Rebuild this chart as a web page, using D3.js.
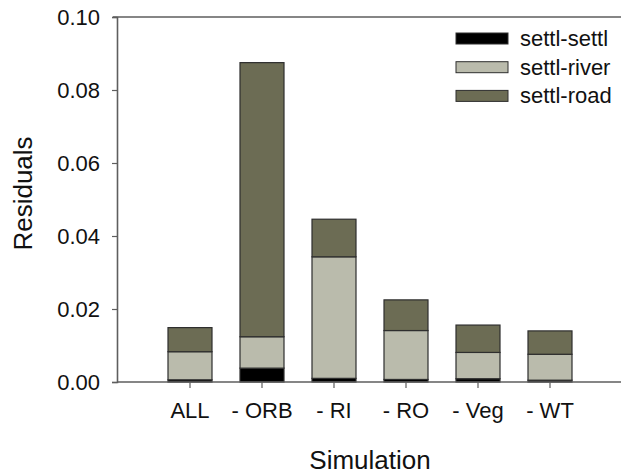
<!DOCTYPE html>
<html>
<head>
<meta charset="utf-8">
<script src="https://cdn.jsdelivr.net/npm/d3@7"></script>
<style>
  html, body { margin: 0; padding: 0; background: #fff; }
  svg { display: block; font-family: "Liberation Sans", Arial, sans-serif; }
</style>
</head>
<body>
<svg id="chart" width="621" height="475"></svg>
<script>
// Simulations along the x axis
const simulations = ["ALL", "- ORB", "- RI", "- RO", "- Veg", "- WT"];
// Residual components per simulation (stacked bottom to top)
const settlSettl = [0.0006, 0.0038, 0.0010, 0.0007, 0.0009, 0.0005];
const settlRiver = [0.0077, 0.0086, 0.0333, 0.0134, 0.0072, 0.0071];
const settlRoad  = [0.0066, 0.0751, 0.0103, 0.0084, 0.0075, 0.0064];
const seriesNames = ["settl-settl", "settl-river", "settl-road"];
const seriesColors = ["#000000", "#babbac", "#6c6c54"];
const yTicks = [0, 0.02, 0.04, 0.06, 0.08, 0.10];

const svg = d3.select("#chart");
const plotLeft = 117, plotTop = 17, plotBottom = 382, plotRight = 621;

// Six slots of bars with one step of empty space before the first
const step = 72;
const x = d3.scaleBand()
  .domain(simulations)
  .range([plotLeft + step / 2 + 1, plotLeft + step / 2 + 1 + step * simulations.length])
  .paddingInner(28 / 72)
  .paddingOuter(14 / 72);

const y = d3.scaleLinear().domain([0, 0.10]).range([plotBottom, plotTop]);

const rows = simulations.map((s, i) => ({
  sim: s,
  "settl-settl": settlSettl[i],
  "settl-river": settlRiver[i],
  "settl-road": settlRoad[i]
}));
const stacked = d3.stack().keys(seriesNames)(rows);

// Stacked bars
svg.append("g").selectAll("g")
  .data(stacked)
  .join("g")
  .attr("fill", (d, i) => seriesColors[i])
  .selectAll("rect")
  .data(d => d)
  .join("rect")
  .attr("x", d => x(d.data.sim))
  .attr("width", x.bandwidth())
  .attr("y", d => y(d[1]))
  .attr("height", d => y(d[0]) - y(d[1]))
  .attr("stroke", "#2e2e2e")
  .attr("stroke-width", 1.2);

// Y axis
const yAxis = svg.append("g")
  .attr("transform", `translate(${plotLeft},0)`)
  .call(d3.axisLeft(y).tickValues(yTicks).tickFormat(d3.format(".2f")).tickSize(5).tickPadding(12));
yAxis.select(".domain").attr("stroke", "#5e5e5e").attr("stroke-width", 1.6);
yAxis.selectAll(".tick line").attr("stroke", "#5e5e5e").attr("stroke-width", 1.2);
yAxis.selectAll("text").attr("font-size", 22).attr("fill", "#111").attr("font-family", "Liberation Sans, Arial, sans-serif");

// Top border line
svg.append("line")
  .attr("x1", plotLeft - 4).attr("x2", plotRight)
  .attr("y1", y(0.10)).attr("y2", y(0.10))
  .attr("stroke", "#5e5e5e").attr("stroke-width", 1.6);

// X axis
const xAxis = svg.append("g")
  .attr("transform", `translate(0,${plotBottom})`)
  .call(d3.axisBottom(x).tickSize(6).tickPadding(14).tickSizeOuter(0));
xAxis.select(".domain").attr("d", `M${plotLeft},0H${plotRight}`).attr("stroke", "#5e5e5e").attr("stroke-width", 1.6);
xAxis.selectAll(".tick line").attr("stroke", "#5e5e5e").attr("stroke-width", 1.2);
xAxis.selectAll("text").attr("font-size", 22).attr("fill", "#111").attr("font-family", "Liberation Sans, Arial, sans-serif");

// Axis titles
svg.append("text")
  .attr("x", (plotLeft + plotRight) / 2 + 1).attr("y", 469)
  .attr("text-anchor", "middle")
  .attr("font-size", 26).attr("fill", "#111")
  .text("Simulation");

svg.append("text")
  .attr("transform", `translate(32,${(plotTop + plotBottom) / 2 - 6}) rotate(-90)`)
  .attr("text-anchor", "middle")
  .attr("font-size", 26).attr("fill", "#111")
  .text("Residuals");

// Legend
const legend = svg.append("g").attr("transform", "translate(456,33)");
const item = legend.selectAll("g")
  .data(seriesNames)
  .join("g")
  .attr("transform", (d, i) => `translate(0,${i * 28.7})`);
item.append("rect")
  .attr("width", 52).attr("height", 11)
  .attr("fill", (d, i) => seriesColors[i])
  .attr("stroke", "#2e2e2e").attr("stroke-width", 1);
item.append("text")
  .attr("x", 64).attr("y", 13)
  .attr("font-size", 22).attr("fill", "#111")
  .text(d => d);
</script>
</body>
</html>
